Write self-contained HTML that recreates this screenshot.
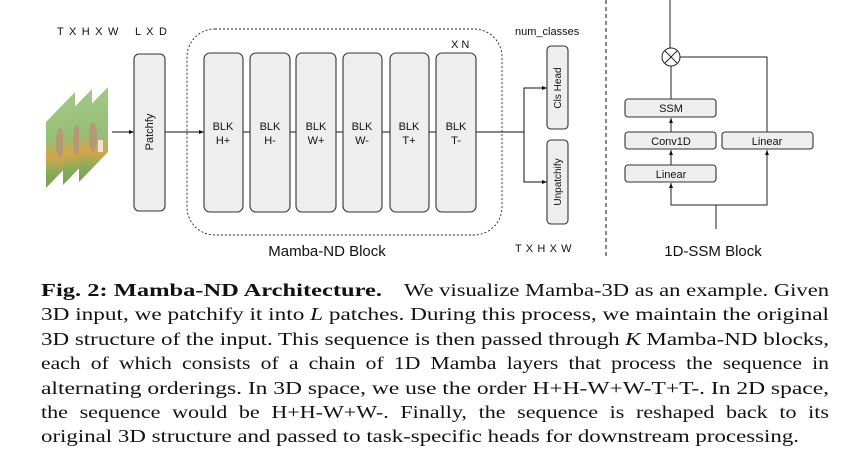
<!DOCTYPE html>
<html><head><meta charset="utf-8"><style>
html,body{margin:0;padding:0;background:#fff;width:864px;height:468px;overflow:hidden}
svg{display:block}
.s{font-family:"Liberation Sans",sans-serif;fill:#111}
.r{font-family:"Liberation Serif",serif;fill:#111;font-size:18px}
</style></head><body>
<svg width="864" height="468" viewBox="0 0 864 468" xmlns="http://www.w3.org/2000/svg">
<defs>
<linearGradient id="g" x1="0" y1="0" x2="0" y2="1">
<stop offset="0" stop-color="#a3c887"/><stop offset="0.5" stop-color="#97bf78"/><stop offset="0.68" stop-color="#d6a448"/><stop offset="0.85" stop-color="#86ac5a"/><stop offset="1" stop-color="#79a052"/>
</linearGradient>
<marker id="a" markerWidth="6" markerHeight="6" refX="5" refY="3" orient="auto"><path d="M0,1 L5,3 L0,5 z" fill="#111"/></marker>
</defs>
<g>
<polygon points="46,122 75,92 75,158 46,188" fill="url(#g)"/>
<ellipse cx="60" cy="143" rx="4" ry="15" fill="#b39a72"/>
<polygon points="63,119 92,89 92,155 63,185" fill="url(#g)"/>
<ellipse cx="77" cy="140" rx="4" ry="15" fill="#b39a72"/>
<polygon points="79,117 108,87 108,152 79,182" fill="url(#g)"/>
<ellipse cx="93" cy="137" rx="4" ry="15" fill="#b39a72"/>
<rect x="98" y="140" width="5" height="12" fill="#e8e4d8"/>
</g>
<g class="s" font-size="11">
<text x="57" y="35" letter-spacing="1.2">T X H X W</text>
<text x="135" y="35" letter-spacing="1.2">L X D</text>
<text x="451" y="48">X N</text>
<text x="515" y="35">num_classes</text>
<text x="515" y="252" letter-spacing="0.6">T X H X W</text>
</g>
<g stroke="#111" stroke-width="1" fill="none">
<line x1="112" y1="132" x2="134" y2="132" marker-end="url(#a)"/>
<line x1="165" y1="132" x2="204" y2="132" marker-end="url(#a)"/>
<line x1="476" y1="132" x2="524" y2="132"/>
<polyline points="547,88 524,88 524,182 546,182"/>
<line x1="524" y1="88" x2="547" y2="88" marker-end="url(#a)"/>
<line x1="524" y1="182" x2="547" y2="182" marker-end="url(#a)"/>
<line x1="243" y1="132" x2="436" y2="132"/>
</g>
<rect x="187" y="29" width="315" height="206" rx="28" fill="none" stroke="#222" stroke-width="0.9" stroke-dasharray="2,2"/>
<g fill="#eeeeee" stroke="#333" stroke-width="1.1">
<rect x="134" y="54" width="31" height="157" rx="5"/>
<rect x="204" y="53" width="39" height="159" rx="6"/>
<rect x="250" y="53" width="40" height="159" rx="6"/>
<rect x="296" y="53" width="40" height="159" rx="6"/>
<rect x="343" y="53" width="39" height="159" rx="6"/>
<rect x="390" y="53" width="39" height="159" rx="6"/>
<rect x="436" y="53" width="40" height="159" rx="6"/>
<rect x="547" y="46" width="21" height="83" rx="4"/>
<rect x="547" y="140" width="21" height="84" rx="4"/>
</g>
<g class="s" font-size="11" text-anchor="middle">
<text transform="translate(153,132) rotate(-90)">Patchfy</text>
<text transform="translate(561,88) rotate(-90)" font-size="10">Cls Head</text>
<text transform="translate(561,182) rotate(-90)" font-size="10">Unpatchify</text>
<text x="223" y="130">BLK</text><text x="223" y="144">H+</text>
<text x="270" y="130">BLK</text><text x="270" y="144">H-</text>
<text x="316" y="130">BLK</text><text x="316" y="144">W+</text>
<text x="362" y="130">BLK</text><text x="362" y="144">W-</text>
<text x="409" y="130">BLK</text><text x="409" y="144">T+</text>
<text x="456" y="130">BLK</text><text x="456" y="144">T-</text>
<text x="327" y="256" font-size="15">Mamba-ND Block</text>
<text x="713" y="256" font-size="15">1D-SSM Block</text>
</g>
<line x1="606" y1="0" x2="606" y2="258" stroke="#111" stroke-width="1" stroke-dasharray="4,3"/>
<g stroke="#222" stroke-width="1" fill="none">
<line x1="670" y1="0" x2="670" y2="48"/>
<circle cx="671" cy="57" r="9"/>
<line x1="665" y1="51" x2="677" y2="63"/><line x1="677" y1="51" x2="665" y2="63"/>
<polyline points="680,57 767,57 767,132"/>
<line x1="671" y1="66" x2="671" y2="99"/>
<line x1="671" y1="132" x2="671" y2="118" marker-end="url(#a)"/>
<line x1="671" y1="165" x2="671" y2="150" marker-end="url(#a)"/>
<polyline points="671,183 671,205 767,205 767,150"/>
<line x1="671" y1="190" x2="671" y2="183" marker-end="url(#a)"/>
<line x1="767" y1="170" x2="767" y2="150" marker-end="url(#a)"/>
<line x1="716" y1="205" x2="716" y2="229"/>
</g>
<g fill="#eeeeee" stroke="#333" stroke-width="1.1">
<rect x="625" y="99" width="91" height="18" rx="3"/>
<rect x="625" y="132" width="91" height="17" rx="3"/>
<rect x="722" y="132" width="91" height="17" rx="3"/>
<rect x="625" y="165" width="91" height="17" rx="3"/>
</g>
<g class="s" font-size="11" text-anchor="middle">
<text x="671" y="112">SSM</text>
<text x="671" y="145">Conv1D</text>
<text x="767" y="145">Linear</text>
<text x="671" y="178">Linear</text>
</g>
<text class="r" y="296"><tspan x="41" font-weight="bold" textLength="341" lengthAdjust="spacingAndGlyphs">Fig. 2: Mamba-ND Architecture.</tspan><tspan x="404" textLength="425" lengthAdjust="spacingAndGlyphs">We visualize Mamba-3D as an example. Given</tspan></text>
<text class="r" x="41" y="320" textLength="788" lengthAdjust="spacingAndGlyphs">3D input, we patchify it into <tspan font-style="italic">L</tspan> patches. During this process, we maintain the original</text>
<text class="r" x="41" y="345" textLength="788" lengthAdjust="spacingAndGlyphs">3D structure of the input. This sequence is then passed through <tspan font-style="italic">K</tspan> Mamba-ND blocks,</text>
<text class="r" x="41" y="369" textLength="788" lengthAdjust="spacingAndGlyphs" word-spacing="4">each of which consists of a chain of 1D Mamba layers that process the sequence in</text>
<text class="r" x="41" y="394" textLength="788" lengthAdjust="spacingAndGlyphs">alternating orderings. In 3D space, we use the order H+H-W+W-T+T-. In 2D space,</text>
<text class="r" x="41" y="418" textLength="788" lengthAdjust="spacingAndGlyphs" word-spacing="5">the sequence would be H+H-W+W-. Finally, the sequence is reshaped back to its</text>
<text class="r" x="41" y="442" textLength="758" lengthAdjust="spacingAndGlyphs">original 3D structure and passed to task-specific heads for downstream processing.</text>
</svg>
</body></html>
